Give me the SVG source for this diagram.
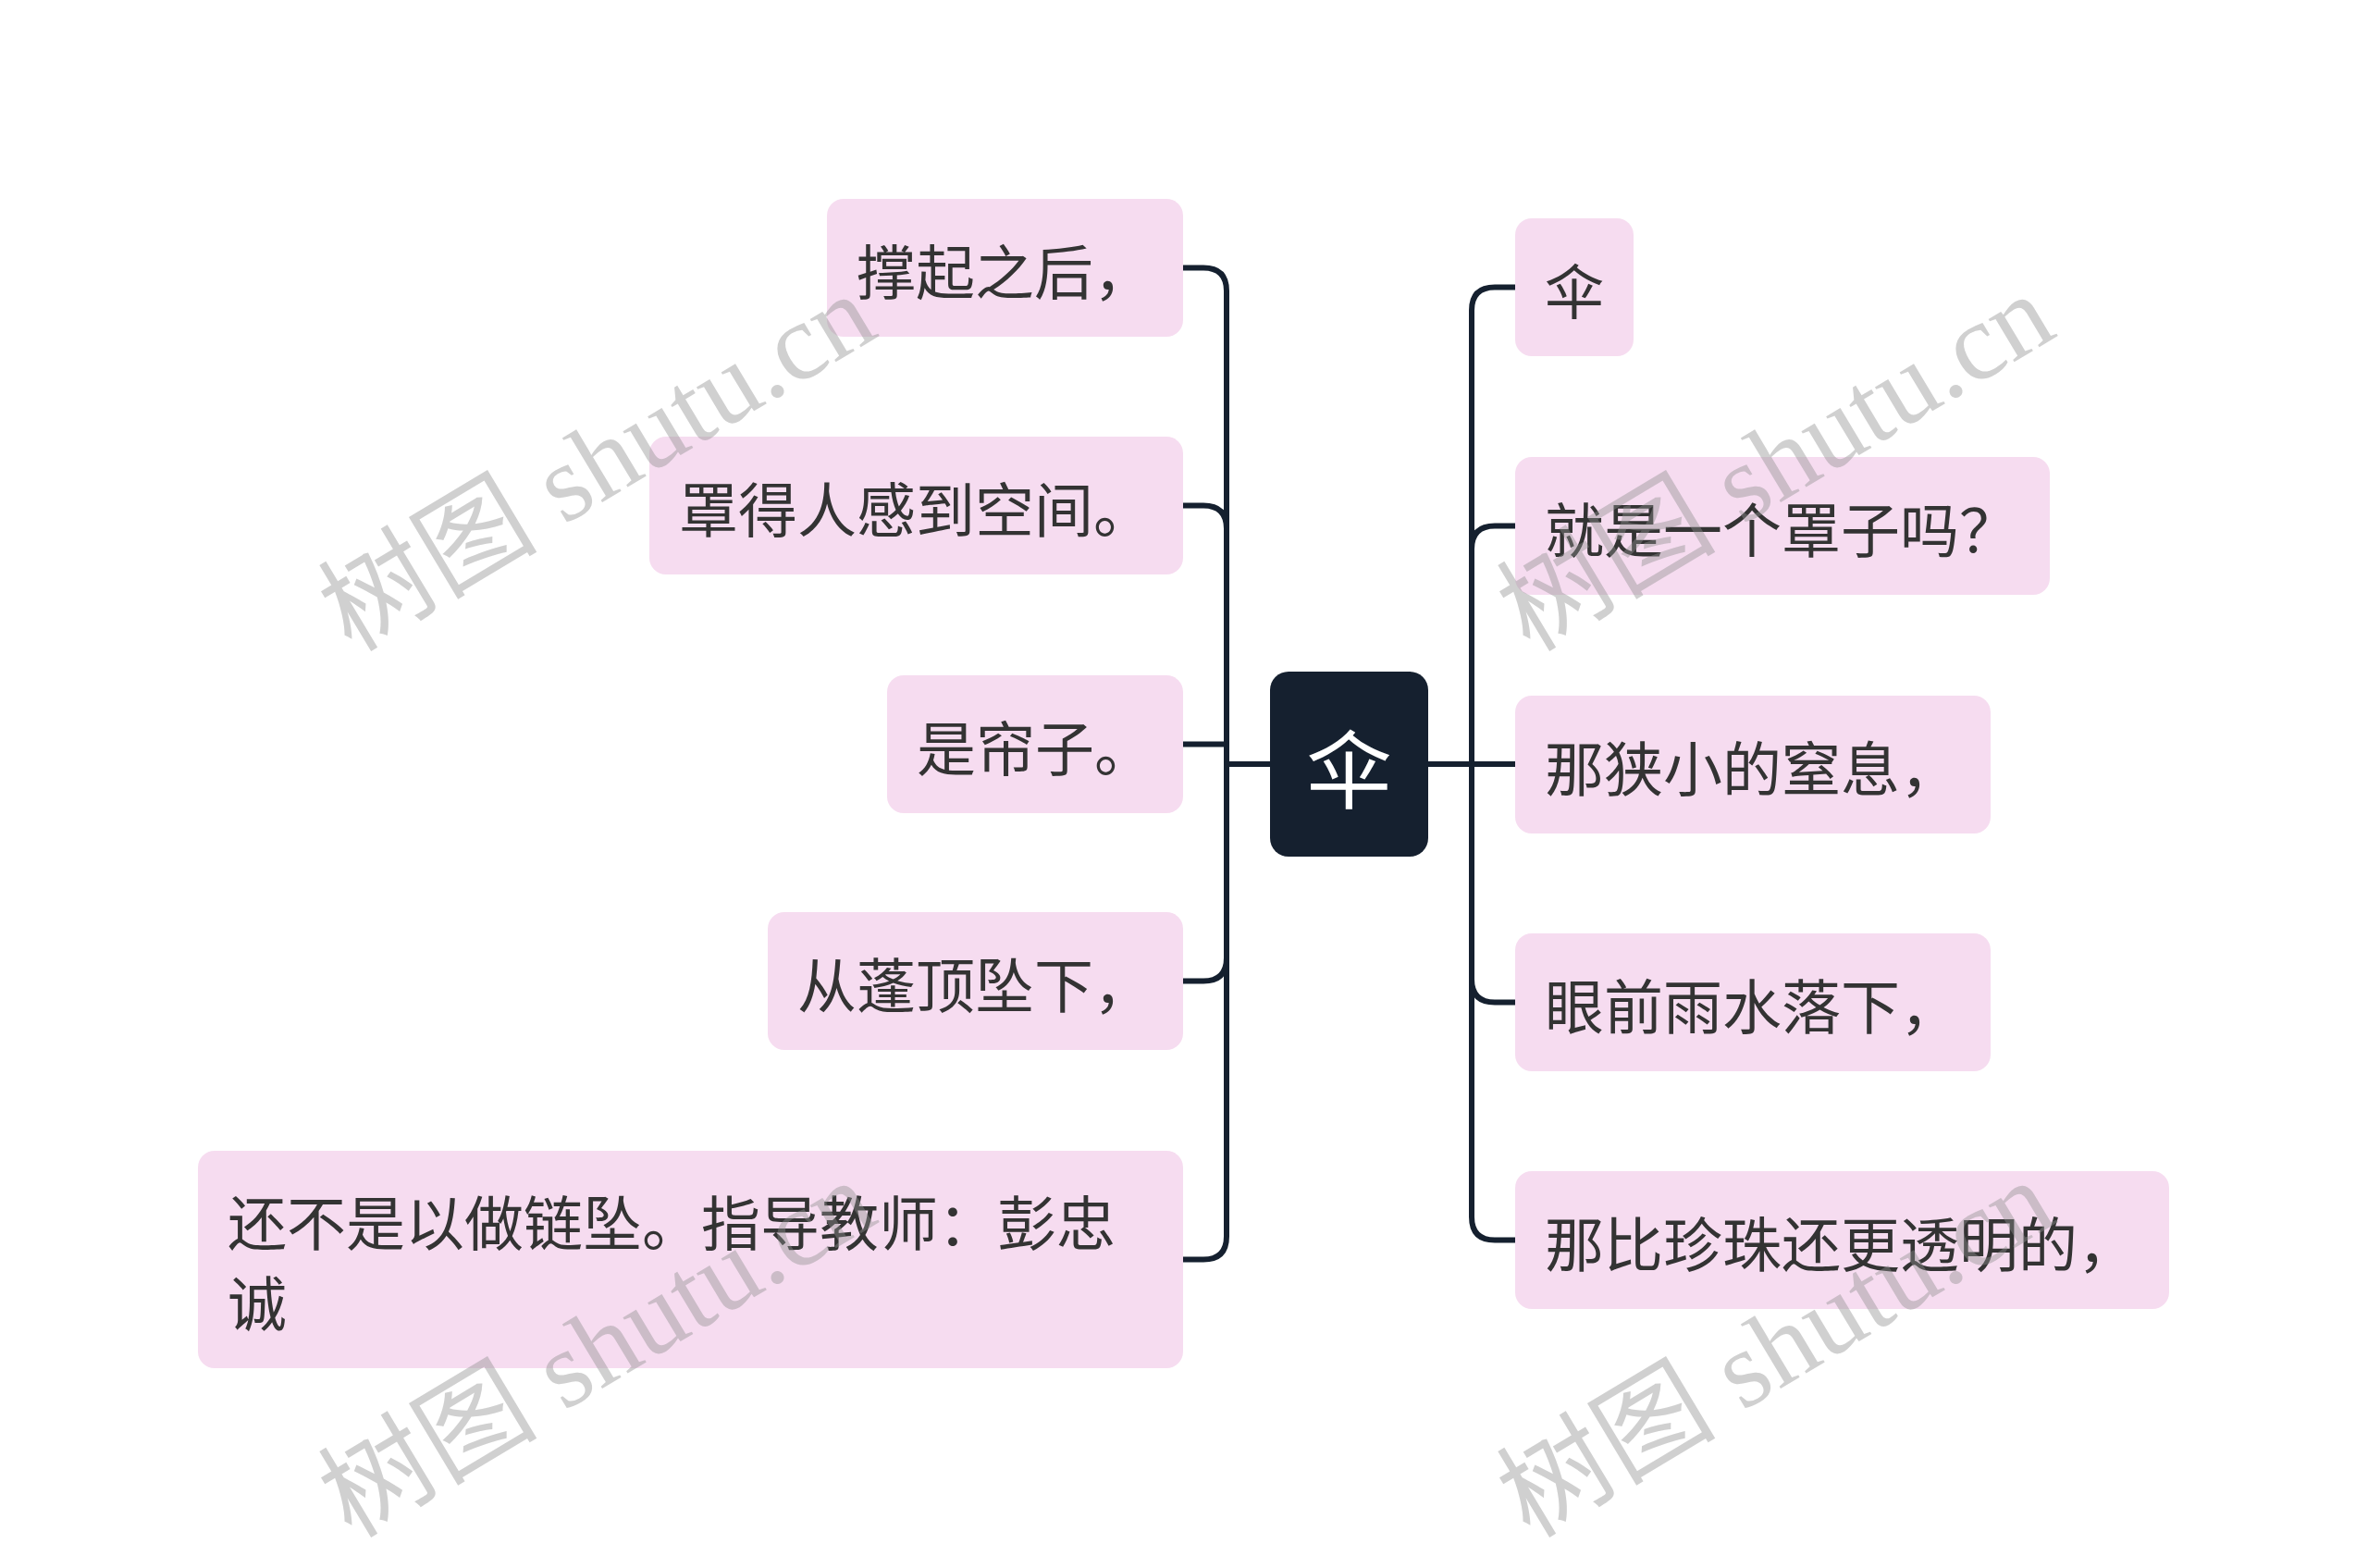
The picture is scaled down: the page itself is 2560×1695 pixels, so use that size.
<svg xmlns="http://www.w3.org/2000/svg" width="2560" height="1695" viewBox="0 0 2560 1695">
<style>
.bg{fill:#ffffff}
.node rect{fill:#f6dcf0}
.node text{font-family:"Noto Sans CJK SC","Noto Sans",sans-serif;font-size:64px;fill:#333333;dominant-baseline:central}
.root rect{fill:#15202f}
.root text{font-family:"Noto Sans CJK SC","Noto Sans",sans-serif;font-size:92px;fill:#ffffff;dominant-baseline:central;text-anchor:middle}
.conn path{fill:none;stroke:#15202f;stroke-width:6;stroke-linejoin:round}
.wm text{font-family:"Liberation Serif","Noto Sans CJK SC",serif;font-size:118px;fill:#8f8f8f;fill-opacity:0.42;text-anchor:middle}
</style>
<rect class="bg" x="0" y="0" width="2560" height="1695"/>
<g id="connectors" class="conn">
<path d="M1373 826 H1326 V314.5 Q1326 289.5 1301 289.5 H1279"/>
<path d="M1373 826 H1326 V571.5 Q1326 546.5 1301 546.5 H1279"/>
<path d="M1373 826 H1326 V804.5 H1279"/>
<path d="M1373 826 H1326 V1035.5 Q1326 1060.5 1301 1060.5 H1279"/>
<path d="M1373 826 H1326 V1336.5 Q1326 1361.5 1301 1361.5 H1279"/>
<path d="M1544 826 H1591 V335.5 Q1591 310.5 1616 310.5 H1638"/>
<path d="M1544 826 H1591 V593.5 Q1591 568.5 1616 568.5 H1638"/>
<path d="M1544 826 H1638"/>
<path d="M1544 826 H1591 V1058.5 Q1591 1083.5 1616 1083.5 H1638"/>
<path d="M1544 826 H1591 V1315.5 Q1591 1340.5 1616 1340.5 H1638"/>
</g>
<g id="root" class="root">
<rect x="1373" y="726" width="171" height="200" rx="20"/>
<text x="1458.5" y="826">伞</text>
</g>
<g id="n-l1" class="node"><rect x="894" y="215" width="385" height="149" rx="18"/><text x="926" y="289.5">撑起之后，</text></g>
<g id="n-l2" class="node"><rect x="702" y="472" width="577" height="149" rx="18"/><text x="734" y="546.5">罩得人感到空间。</text></g>
<g id="n-l3" class="node"><rect x="959" y="730" width="320" height="149" rx="18"/><text x="991" y="804.5">是帘子。</text></g>
<g id="n-l4" class="node"><rect x="830" y="986" width="449" height="149" rx="18"/><text x="862" y="1060.5">从蓬顶坠下，</text></g>
<g id="n-l5" class="node"><rect x="214" y="1244" width="1065" height="235" rx="18"/><text x="246" y="1318">还不是以做链坠。指导教师：彭忠</text><text x="246" y="1405">诚</text></g>
<g id="n-r1" class="node"><rect x="1638" y="236" width="128" height="149" rx="18"/><text x="1670" y="310.5">伞</text></g>
<g id="n-r2" class="node"><rect x="1638" y="494" width="578" height="149" rx="18"/><text x="1670" y="568.5">就是一个罩子吗？</text></g>
<g id="n-r3" class="node"><rect x="1638" y="752" width="514" height="149" rx="18"/><text x="1670" y="826.5">那狭小的窒息，</text></g>
<g id="n-r4" class="node"><rect x="1638" y="1009" width="514" height="149" rx="18"/><text x="1670" y="1083.5">眼前雨水落下，</text></g>
<g id="n-r5" class="node"><rect x="1638" y="1266" width="707" height="149" rx="18"/><text x="1670" y="1340.5">那比珍珠还更透明的，</text></g>
<g id="watermarks" class="wm">
<text x="666" y="534" transform="rotate(-31 666 534)" textLength="668" lengthAdjust="spacingAndGlyphs">树图 shutu.cn</text>
<text x="1940" y="534" transform="rotate(-31 1940 534)" textLength="668" lengthAdjust="spacingAndGlyphs">树图 shutu.cn</text>
<text x="666" y="1492" transform="rotate(-31 666 1492)" textLength="668" lengthAdjust="spacingAndGlyphs">树图 shutu.cn</text>
<text x="1940" y="1492" transform="rotate(-31 1940 1492)" textLength="668" lengthAdjust="spacingAndGlyphs">树图 shutu.cn</text>
</g>
</svg>
